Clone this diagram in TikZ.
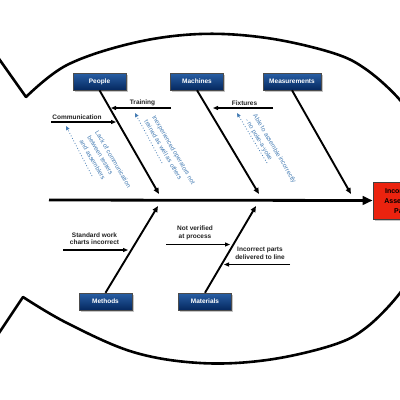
\documentclass[tikz,border=0pt]{standalone}
\usepackage{fontspec}
\setmainfont{Liberation Sans}
\usetikzlibrary{arrows.meta,shadows}
\definecolor{boxtop}{RGB}{40,95,165}
\definecolor{boxbot}{RGB}{5,40,95}
\definecolor{hintblue}{RGB}{70,125,180}
\definecolor{lblgray}{RGB}{35,35,35}
\definecolor{effred}{RGB}{235,35,15}
\tikzset{
  catbox/.style={draw=black!70,line width=0.5pt,top color=boxtop,bottom color=boxbot,
    minimum width=53pt,minimum height=17pt,inner sep=0pt,text=white,
    font=\fontsize{6.5}{7}\selectfont\bfseries,
    drop shadow={shadow xshift=1.8pt,shadow yshift=-1.8pt,opacity=0.45}},
  effectbox/.style={draw=black!75,line width=0.7pt,fill=effred,
    minimum width=60pt,minimum height=37pt,inner sep=0pt,text=black,align=center,
    font=\fontsize{7}{10}\selectfont\bfseries,
    drop shadow={shadow xshift=1.8pt,shadow yshift=-1.8pt,opacity=0.45}},
  causelbl/.style={text=lblgray,align=center,inner sep=0pt,
    font=\fontsize{6.5}{7.5}\selectfont\bfseries},
  hint/.style={text=hintblue,align=left,inner sep=0pt,anchor=north west,rotate=-59.6,
    font=\fontsize{6.3}{9}\selectfont},
  fishline/.style={line width=2.6pt,line join=round,line cap=round},
  bone/.style={line width=1.9pt,-{Triangle[length=6pt,width=5pt]}},
  spine/.style={line width=2.8pt,-{Triangle[length=10pt,width=8.5pt]}},
  subbone/.style={line width=1.1pt,-{Triangle[length=5pt,width=4pt]}},
  hintarrow/.style={hintblue,line width=0.8pt,dotted,-{Triangle[length=4pt,width=3.5pt]}}
}
\begin{document}
\begin{tikzpicture}[x=1pt,y=-1pt]
\useasboundingbox (0,0) rectangle (400,400);
\clip (0,0) rectangle (400,400);
\fill[white] (0,0) rectangle (400,400);
% fish outline
\draw[fishline] (-3,56) -- (26,97) plot[smooth,tension=0.6] coordinates
  {(26,97) (67,65) (133,43) (200,34) (267,38) (333,53) (367,70) (400,100) (415,125)};
\draw[fishline] (-3,336) -- (23,297) plot[smooth,tension=0.6] coordinates
  {(23,297) (67,323) (133,352) (200,363) (267,360) (333,345) (367,327) (400,293) (415,265)};
% effect
\node[effectbox] (effect) at (403,200.5) {Incorrectly\\Assembled\\Parts};
% spine
\coordinate (spinestart) at (49,200);
\draw[spine] (spinestart) -- (effect.west);
% category boxes
\node[catbox] (people) at (99.5,81.5) {People};
\node[catbox] (machines) at (197,81.5) {Machines};
\node[catbox,minimum width=58pt] (measure) at (292,81.5) {Measurements};
\node[catbox] (methods) at (105.5,301.5) {Methods};
\node[catbox] (materials) at (205,301.5) {Materials};
% bone tips
\coordinate (tpeople) at (159,194);
\coordinate (tmachines) at (259,194);
\coordinate (tmeasure) at (351,194);
\coordinate (tmethods) at (158,206);
\coordinate (tmaterials) at (256,206);
\draw[bone] (people.south) -- (tpeople);
\draw[bone] (machines.south) -- (tmachines);
\draw[bone] (measure.south) -- (tmeasure);
\draw[bone] (methods.north) -- (tmethods);
\draw[bone] (materials.north) -- (tmaterials);
% sub causes
\node[causelbl] (training) at (142.5,103) {Training};
\coordinate (trs) at (171,108); \coordinate (tre) at (111,108);
\draw[subbone] (trs) -- (tre);
\node[causelbl] (fixtures) at (244.5,103) {Fixtures};
\coordinate (fxs) at (273,108); \coordinate (fxe) at (213,108);
\draw[subbone] (fxs) -- (fxe);
\node[causelbl] (comm) at (77,117) {Communication};
\coordinate (cms) at (51,122); \coordinate (cme) at (116,122);
\draw[subbone] (cms) -- (cme);
\node[causelbl] (std) at (94.5,238.5) {Standard work\\charts incorrect};
\coordinate (sts) at (63,250); \coordinate (ste) at (128,250);
\draw[subbone] (sts) -- (ste);
\node[causelbl] (notver) at (195,233) {Not verified\\at process};
\coordinate (nvs) at (166,244.5); \coordinate (nve) at (230,244.5);
\draw[subbone] (nvs) -- (nve);
\node[causelbl] (incparts) at (260,253.5) {Incorrect parts\\delivered to line};
\coordinate (ips) at (290,264.5); \coordinate (ipe) at (224,264.5);
\draw[subbone] (ips) -- (ipe);
% hints
\node[hint] (lack) at (99,130) {Lack of communication\\between testers\\and assemblers};
\coordinate (lacks) at (92,176); \coordinate (lacke) at (66,126);
\draw[hintarrow] (lacks) -- (lacke);
\node[hint] (inexp) at (156,114.5) {Inexperienced operators not\\trained as well as others};
\coordinate (inxs) at (162,163); \coordinate (inxe) at (135,113);
\draw[hintarrow] (inxs) -- (inxe);
\node[hint] (able) at (257,113) {Able to assemble incorrectly\\- no poke-a-yoke};
\coordinate (abls) at (267,163); \coordinate (able2) at (237,113);
\draw[hintarrow] (abls) -- (able2);
\end{tikzpicture}
\end{document}
